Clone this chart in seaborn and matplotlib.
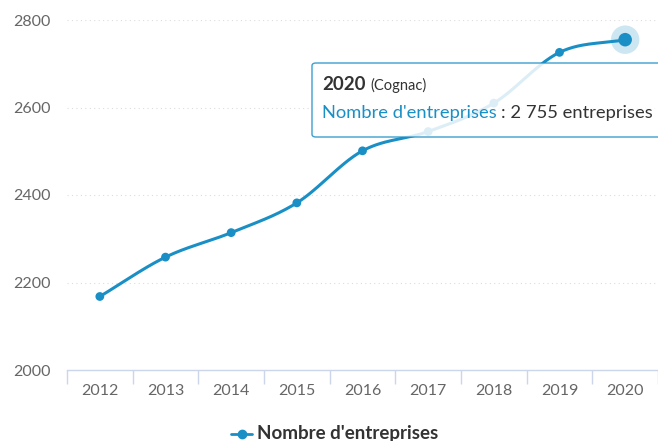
import numpy as np
import pandas as pd
import seaborn as sns
import matplotlib.pyplot as plt
from matplotlib.patches import FancyBboxPatch

years = ['2012', '2013', '2014', '2015', '2016', '2017', '2018', '2019', '2020']
entreprises = [2168, 2258, 2314, 2382, 2501, 2545, 2610, 2726, 2755]
y_ticks = [2000, 2200, 2400, 2600, 2800]

blue = '#1a8fc6'
grey_txt = '#666666'
dark_txt = '#333333'
axis_col = '#ccd6eb'

sns.set_theme(style="white")
plt.rcParams['font.family'] = ['Lato', 'DejaVu Sans']

fig = plt.figure(figsize=(6.58, 4.41), dpi=100)
ax = fig.add_axes([67 / 658, 1 - 370 / 441, 1 - 67 / 658, 350 / 441])

x = np.arange(len(years))
y = np.array(entreprises, dtype=float)

# smooth curve (cubic hermite through the points)
t = np.gradient(y, x)
xs, ys = [], []
for i in range(len(x) - 1):
    s = np.linspace(0, 1, 30)
    h00 = 2 * s**3 - 3 * s**2 + 1
    h10 = s**3 - 2 * s**2 + s
    h01 = -2 * s**3 + 3 * s**2
    h11 = s**3 - s**2
    xs.extend(x[i] + s)
    ys.extend(h00 * y[i] + h10 * t[i] + h01 * y[i + 1] + h11 * t[i + 1])
curve = pd.DataFrame({'x': xs, 'y': ys})
df = pd.DataFrame({'x': x, 'y': y})

sns.lineplot(data=curve, x='x', y='y', ax=ax, color=blue, linewidth=2.2, zorder=3)
sns.scatterplot(data=df.iloc[:-1], x='x', y='y', ax=ax, color=blue, s=40,
                edgecolor='none', zorder=4)
# hovered point
ax.scatter(x[-1], y[-1], s=420, color=blue, alpha=0.22, edgecolor='none', zorder=4, clip_on=False)
ax.scatter(x[-1], y[-1], s=95, color=blue, edgecolor='none', zorder=5, clip_on=False)

ax.set_xlim(-0.5, len(years) - 0.5)
ax.set_ylim(2000, 2800)
ax.set_yticks(y_ticks)
ax.set_yticklabels([str(v) for v in y_ticks])
ax.set_xticks(x)
ax.set_xticklabels(years)
ax.set_xticks(np.arange(-0.5, len(years)), minor=True)
ax.set_xlabel('')
ax.set_ylabel('')

for v in y_ticks[1:]:
    ax.axhline(v, color='#dcdcdc', linestyle=(0, (1, 3)), linewidth=0.8, zorder=1)

for sp in ['top', 'right', 'left']:
    ax.spines[sp].set_visible(False)
ax.spines['bottom'].set_color(axis_col)
ax.spines['bottom'].set_linewidth(1)

ax.tick_params(axis='x', which='major', length=0, pad=10, labelsize=11.5, labelcolor=grey_txt)
ax.tick_params(axis='x', which='minor', length=10, color=axis_col, width=1, bottom=True)
ax.tick_params(axis='y', length=0, pad=12, labelsize=11.5, labelcolor=grey_txt)

# tooltip
box = FancyBboxPatch((312 / 658, 1 - 137 / 441), 400 / 658, 74 / 441,
                     boxstyle='round,pad=0,rounding_size=0.006',
                     transform=fig.transFigure, facecolor='white', alpha=0.85,
                     edgecolor=blue, linewidth=1, zorder=10)
fig.patches.append(box)

fig.canvas.draw()
renderer = fig.canvas.get_renderer()
inv = fig.transFigure.inverted()


def chain(prev, txt, gap, **kw):
    bb = prev.get_window_extent(renderer)
    x0 = inv.transform((bb.x1 + gap, 0))[0]
    return fig.text(x0, prev.get_position()[1], txt, **kw)


t1 = fig.text(322 / 658, 1 - 85 / 441, '2020', fontsize=13.5, fontweight='bold',
              color=dark_txt, va='center', zorder=11)
chain(t1, '(Cognac)', 5, fontsize=10.5, color=dark_txt, va='center', zorder=11)
t2 = fig.text(322 / 658, 1 - 113 / 441, "Nombre d'entreprises", fontsize=13.2,
              color=blue, va='center', zorder=11)
chain(t2, ': 2 755 entreprises', 4, fontsize=13.2, color=dark_txt, va='center', zorder=11)

# legend
fig.lines.append(plt.Line2D([231 / 658, 252 / 658], [1 - 434 / 441] * 2,
                            transform=fig.transFigure, color=blue, linewidth=2))
fig.lines.append(plt.Line2D([241.5 / 658], [1 - 434 / 441], transform=fig.transFigure,
                            color=blue, marker='o', markersize=6, linestyle='none'))
fig.text(257 / 658, 1 - 433 / 441, "Nombre d'entreprises", fontsize=13.5, fontweight='bold',
         color=dark_txt, va='center')

fig.savefig('out.png', dpi=100)
